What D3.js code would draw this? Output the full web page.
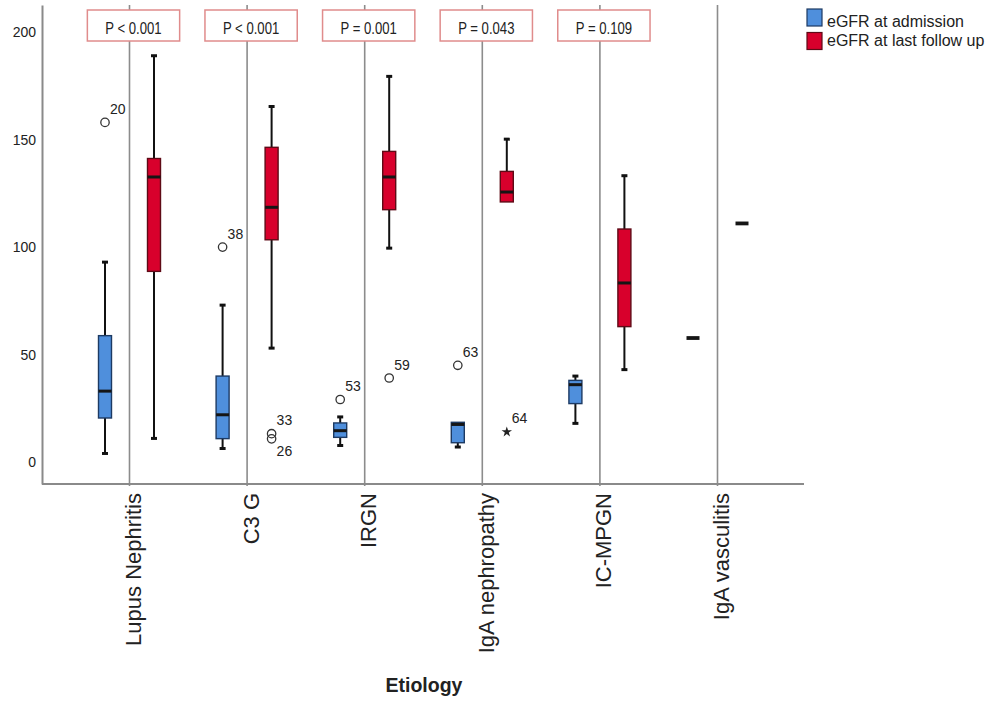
<!DOCTYPE html>
<html>
<head>
<meta charset="utf-8">
<script src="https://cdn.jsdelivr.net/npm/d3@7"></script>
<style>
  body { margin: 0; background: #fff; }
  text { font-family: Arial, "Liberation Sans", sans-serif; fill: #222; }
</style>
</head>
<body>
<svg id="chart" width="992" height="702"></svg>
<script>
// ---- data ----
const categories = ["Lupus Nephritis", "C3 G", "IRGN", "IgA nephropathy", "IC-MPGN", "IgA vasculitis"];
const seriesNames = ["eGFR at admission", "eGFR at last follow up"];

// five-number summaries per etiology: [lower whisker, Q1, median, Q3, upper whisker]
const admissionStats = [
  [4, 20.5, 33, 58.8, 93],
  [6.3, 10.9, 22, 40, 73],
  [7.7, 11.5, 14.6, 18.2, 21],
  [7, 9, 17.5, 18.5, 18.5],
  [18, 27.2, 36, 38, 40],
  [57.7, 57.7, 57.7, 57.7, 57.7]
];
const followUpStats = [
  [11, 88.7, 132.6, 141.2, 189],
  [53, 103.4, 118.5, 146.4, 165.4],
  [99.5, 117.4, 132.6, 144.5, 179.4],
  [121, 121, 125.6, 135.2, 150.2],
  [43, 63, 83.3, 108.4, 133.2],
  [111, 111, 111, 111, 111]
];

// outlying cases (circle) and extreme cases (star)
const outlierCategory = ["Lupus Nephritis", "C3 G", "C3 G", "C3 G", "IRGN", "IRGN", "IgA nephropathy", "IgA nephropathy"];
const outlierSeries   = [0, 0, 1, 1, 0, 1, 0, 1];
const outlierValue    = [158, 100, 13.2, 10.8, 29.1, 39.1, 45, 14];
const outlierCase     = ["20", "38", "33", "26", "53", "59", "63", "64"];
const outlierKind     = ["outlier", "outlier", "outlier", "outlier", "outlier", "outlier", "outlier", "extreme"];

const pValueLabels = ["P < 0.001", "P < 0.001", "P = 0.001", "P = 0.043", "P = 0.109"];
const yTicks = [0, 50, 100, 150, 200];

const seriesFill   = ["#4f8fdc", "#d8002c"];
const seriesStroke = ["#1d3a63", "#5e0a16"];

// ---- layout ----
const svg = d3.select("#chart");
const plotLeft = 42, plotRight = 804, plotTop = 5, plotBottom = 484;

const y = d3.scaleLinear().domain([-10.2, 212.6]).range([plotBottom, plotTop]);
const x = d3.scalePoint().domain(categories).range([129.5, 717.5]);
const xs = d3.scaleBand().domain(seriesNames).range([-49, 49]);
const boxW = 13;

// vertical category lines
svg.append("g").selectAll("line").data(categories).join("line")
  .attr("x1", d => x(d)).attr("x2", d => x(d))
  .attr("y1", plotTop).attr("y2", plotBottom + 2)
  .attr("stroke", "#8c8c8c").attr("stroke-width", 1.6);

// y axis
const yAxis = svg.append("g").attr("transform", `translate(${plotLeft},0)`)
  .call(d3.axisLeft(y).tickValues(yTicks).tickSize(0).tickSizeOuter(0).tickPadding(6));
yAxis.select(".domain").attr("stroke", "#8a8a8a").attr("stroke-width", 2);
yAxis.selectAll(".tick text").style("font-size", "14px").attr("fill", "#333");

// x axis line
svg.append("line")
  .attr("x1", plotLeft).attr("x2", plotRight)
  .attr("y1", plotBottom).attr("y2", plotBottom)
  .attr("stroke", "#8a8a8a").attr("stroke-width", 2);

// x axis category labels
const xAxis = svg.append("g").attr("transform", `translate(0,${plotBottom})`)
  .call(d3.axisBottom(x).tickSize(0));
xAxis.select(".domain").remove();
xAxis.selectAll(".tick text")
  .attr("transform", "rotate(-90)")
  .attr("x", -9).attr("y", 0).attr("dy", "0.5em")
  .style("text-anchor", "end")
  .style("font-size", "22px")
  .attr("fill", "#222");

// axis title
svg.append("text")
  .attr("x", 424).attr("y", 692)
  .attr("text-anchor", "middle")
  .style("font-size", "19.5px").style("font-weight", "bold")
  .text("Etiology");

// ---- boxes ----
const allStats = [admissionStats, followUpStats];
const boxes = [];
allStats.forEach((stats, s) => {
  stats.forEach((st, i) => boxes.push({ cat: categories[i], s, st }));
});

const bg = svg.append("g");
boxes.forEach(b => {
  const cx = x(b.cat) + xs(seriesNames[b.s]) + xs.bandwidth() / 2;
  const [lo, q1, med, q3, hi] = b.st;
  const g = bg.append("g");
  // whiskers
  if (lo < q1) {
    g.append("line").attr("x1", cx).attr("x2", cx).attr("y1", y(lo)).attr("y2", y(q1))
      .attr("stroke", "#111").attr("stroke-width", 2);
    g.append("line").attr("x1", cx - 3).attr("x2", cx + 3).attr("y1", y(lo)).attr("y2", y(lo))
      .attr("stroke", "#111").attr("stroke-width", 3);
  }
  if (hi > q3) {
    g.append("line").attr("x1", cx).attr("x2", cx).attr("y1", y(q3)).attr("y2", y(hi))
      .attr("stroke", "#111").attr("stroke-width", 2);
    g.append("line").attr("x1", cx - 3).attr("x2", cx + 3).attr("y1", y(hi)).attr("y2", y(hi))
      .attr("stroke", "#111").attr("stroke-width", 3);
  }
  // interquartile box
  if (q3 > q1) {
    g.append("rect")
      .attr("x", cx - boxW / 2).attr("width", boxW)
      .attr("y", y(q3)).attr("height", y(q1) - y(q3))
      .attr("fill", seriesFill[b.s])
      .attr("stroke", seriesStroke[b.s]).attr("stroke-width", 1.4);
  }
  // median
  g.append("line")
    .attr("x1", cx - boxW / 2).attr("x2", cx + boxW / 2)
    .attr("y1", y(med)).attr("y2", y(med))
    .attr("stroke", "#151515").attr("stroke-width", q3 > q1 ? 3 : 3.8);
});

// ---- outliers ----
const outliers = outlierValue.map((v, i) => ({
  cat: outlierCategory[i], s: outlierSeries[i], v, id: outlierCase[i], kind: outlierKind[i]
}));
const og = svg.append("g");
outliers.forEach(o => {
  const cx = x(o.cat) + xs(seriesNames[o.s]) + xs.bandwidth() / 2;
  const cy = y(o.v);
  if (o.kind === "extreme") {
    og.append("path")
      .attr("d", d3.symbol().type(d3.symbolStar).size(34)())
      .attr("transform", `translate(${cx},${cy})`)
      .attr("fill", "#222");
  } else {
    og.append("circle").attr("cx", cx).attr("cy", cy).attr("r", 4.2)
      .attr("fill", "none").attr("stroke", "#333").attr("stroke-width", 1.3);
  }
  // a case just below a neighbour gets its number underneath
  const crowded = outliers.some(p => p !== o && p.cat === o.cat && p.s === o.s && p.v > o.v && p.v - o.v < 5);
  og.append("text")
    .attr("x", cx + 5).attr("y", crowded ? cy + 17 : cy - 8.5)
    .style("font-size", "14px").attr("fill", "#333")
    .text(o.id);
});

// ---- p-value boxes ----
const pg = svg.append("g");
pValueLabels.forEach((lab, i) => {
  const cx = x(categories[i]) + 4;
  const g = pg.append("g").attr("transform", `translate(${cx},0)`);
  const rect = g.append("rect");
  const t = g.append("text")
    .attr("transform", "translate(0,34) scale(0.82,1)")
    .attr("text-anchor", "middle")
    .style("font-size", "16px").attr("fill", "#222")
    .text(lab);
  const tw = t.node().getComputedTextLength() * 0.82;
  rect.attr("x", -(tw / 2 + 18)).attr("width", tw + 36)
    .attr("y", 10).attr("height", 31)
    .attr("fill", "#fff").attr("stroke", "#e08c8c").attr("stroke-width", 1.5);
});

// ---- legend ----
const lg = svg.append("g").attr("transform", "translate(807,0)");
seriesNames.forEach((name, i) => {
  lg.append("rect")
    .attr("x", 0).attr("y", 9 + i * 23.5).attr("width", 15).attr("height", 17)
    .attr("fill", seriesFill[i]).attr("stroke", seriesStroke[i]).attr("stroke-width", 1.2);
  lg.append("text")
    .attr("x", 20).attr("y", 26.5 + i * 19.5)
    .style("font-size", "16px").attr("fill", "#222")
    .text(name);
});
</script>
</body>
</html>
